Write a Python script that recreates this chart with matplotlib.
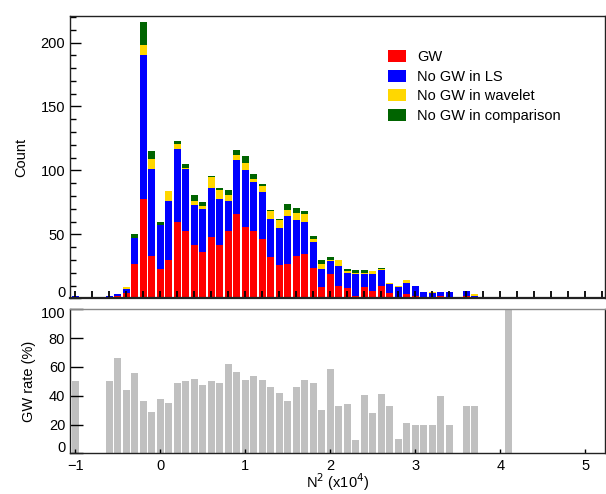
import matplotlib
matplotlib.use("Agg")
import matplotlib.pyplot as plt
from matplotlib.patches import Patch
from matplotlib.ticker import MultipleLocator, FuncFormatter
import numpy as np

plt.rcParams['font.family'] = ['Liberation Sans', 'DejaVu Sans']

# Bin centres of N^2 (x10^4)
bins = [-1.0, -0.9, -0.8, -0.7, -0.6, -0.5, -0.4, -0.3, -0.2, -0.1,
        0.0, 0.1, 0.2, 0.3, 0.4, 0.5, 0.6, 0.7, 0.8, 0.9,
        1.0, 1.1, 1.2, 1.3, 1.4, 1.5, 1.6, 1.7, 1.8, 1.9,
        2.0, 2.1, 2.2, 2.3, 2.4, 2.5, 2.6, 2.7, 2.8, 2.9,
        3.0, 3.1, 3.2, 3.3, 3.4, 3.5, 3.6, 3.7, 3.8, 3.9,
        4.0, 4.1, 4.2, 4.3, 4.4, 4.5, 4.6]

gw = [1, 0, 0, 0, 1, 2, 4, 27, 78, 33,
      23, 30, 60, 53, 42, 36, 48, 42, 53, 66,
      56, 53, 46, 32, 26, 27, 33, 35, 24, 9,
      19, 10, 8, 2, 9, 6, 10, 4, 1, 3,
      2, 1, 1, 2, 1, 0, 2, 1, 0, 0,
      0, 1, 0, 0, 0, 0, 0]
no_ls = [1, 0, 0, 1, 1, 1, 3, 20, 112, 68,
         34, 46, 57, 48, 31, 34, 38, 36, 23, 42,
         44, 38, 37, 30, 29, 37, 28, 25, 20, 14,
         10, 15, 12, 17, 10, 13, 12, 7, 8, 9,
         8, 4, 3, 3, 4, 0, 4, 1, 0, 1,
         0, 0, 0, 0, 0, 0, 0]
no_wavelet = [0, 0, 0, 0, 0, 0, 2, 0, 8, 8,
              0, 8, 4, 1, 3, 2, 9, 7, 5, 4,
              6, 2, 5, 6, 6, 5, 6, 6, 2, 4,
              1, 5, 1, 1, 1, 2, 1, 1, 1, 2,
              0, 0, 1, 0, 0, 1, 0, 1, 0, 0,
              0, 0, 0, 0, 1, 0, 0]
no_comp = [0, 0, 0, 0, 0, 0, 0, 3, 18, 6,
           3, 0, 2, 3, 5, 3, 1, 1, 4, 4,
           5, 4, 1, 1, 1, 5, 4, 2, 3, 3,
           2, 0, 2, 2, 2, 0, 1, 0, 0, 0,
           0, 0, 0, 0, 0, 0, 0, 0, 0, 0,
           0, 0, 0, 0, 0, 0, 1]

# GW rate (%)
gw_rate = [50, 0, 0, 0, 50, 66, 44, 55.6, 36, 29,
           38, 35, 48.7, 50, 51.5, 47.6, 50, 48.5, 62, 56.8,
           50.6, 54, 51, 46, 41.6, 36, 46, 51, 48.7, 30,
           58.6, 33, 34.5, 9, 40.4, 28, 41, 33, 10, 21,
           19.7, 20, 20, 39.5, 20, 0, 33, 33, 0, 0,
           0, 100, 0, 0, 0, 0, 0]

series_labels = ['GW', 'No GW in LS', 'No GW in wavelet', 'No GW in comparison']
series_colors = ['#ff0000', '#0000ff', '#ffd700', '#006400']

count_ticks = [0, 50, 100, 150, 200]
rate_ticks = [0, 20, 40, 60, 80, 100]
x_ticks = [-1, 0, 1, 2, 3, 4, 5]
x_ticklabels = ['\u22121', '0', '1', '2', '3', '4', '5']

W, H = 606, 494
fig = plt.figure(figsize=(W / 100, H / 100), dpi=100)
L, R = 70, 605
ax1 = fig.add_axes([L / W, 1 - 298.3 / H, (R - L) / W, (298.3 - 15.7) / H])
ax2 = fig.add_axes([L / W, 1 - 453.3 / H, (R - L) / W, (453.3 - 309.3) / H])

x = np.array(bins)
width = 0.08
bottom = np.zeros(len(bins))
for vals, col in zip([gw, no_ls, no_wavelet, no_comp], series_colors):
    v = np.array(vals, dtype=float)
    ax1.bar(x, v, width=width, bottom=bottom, color=col, edgecolor='none', linewidth=0)
    bottom += v

ax2.bar(x, gw_rate, width=width, color='#c0c0c0', edgecolor='none', linewidth=0)

xlim = (-1.062, 5.232)
for ax in (ax1, ax2):
    ax.set_xlim(*xlim)
    for s in ax.spines.values():
        s.set_linewidth(1.0)
        s.set_color('#222222')

fs = 10.5
ax1.set_ylim(0, 221)
ax1.set_yticks(count_ticks)
ax1.yaxis.set_minor_locator(MultipleLocator(10))
ax1.xaxis.set_major_locator(MultipleLocator(0.2))
ax1.tick_params(axis='y', which='major', direction='in', length=8, width=1, labelsize=fs)
ax1.tick_params(axis='y', which='minor', direction='in', length=4, width=1)
ax1.tick_params(axis='x', which='major', direction='in', length=5, width=1.3, labelbottom=False)
ax1.spines['bottom'].set_linewidth(1.6)
# lowest label is raised slightly, as in the original
ax1.yaxis.set_major_formatter(FuncFormatter(lambda v, p: '' if v == 0 else f'{int(v)}'))
ax1.annotate('0', xy=(0, 0), xycoords=('axes fraction', 'data'),
             xytext=(-3.5, 3.5), textcoords='offset points', ha='right', va='center', fontsize=fs)
ax1.set_ylabel('Count', fontsize=fs, labelpad=9)

ax2.set_ylim(0, 100)
ax2.set_yticks(rate_ticks)
ax2.tick_params(axis='y', which='major', direction='in', length=9, width=1, labelsize=fs)
ax2.tick_params(axis='x', which='major', direction='in', length=3, width=1, labelsize=fs, pad=4)
ax2.spines['top'].set_color('#888888')
ax2.set_xticks(x_ticks)
ax2.set_xticklabels(x_ticklabels)
ax2.yaxis.set_major_formatter(FuncFormatter(lambda v, p: '' if v in (0, 100) else f'{int(v)}'))
ax2.annotate('100', xy=(0, 100), xycoords=('axes fraction', 'data'),
             xytext=(-3.5, -3.5), textcoords='offset points', ha='right', va='center', fontsize=fs)
ax2.annotate('0', xy=(0, 0), xycoords=('axes fraction', 'data'),
             xytext=(-3.5, 3.5), textcoords='offset points', ha='right', va='center', fontsize=fs)
ax2.set_ylabel('GW rate (%)', fontsize=fs, labelpad=9)
ax2.set_xlabel('N$^2$ (x10$^4$)', fontsize=fs, labelpad=-1)

handles = [Patch(facecolor=c, edgecolor='none') for c in series_colors]
fig.legend(handles, series_labels, loc='upper left',
           bbox_to_anchor=(388 / W, 1 - 50 / H), frameon=False, fontsize=fs,
           handlelength=1.25, handleheight=0.9, handletextpad=0.75,
           labelspacing=0.38, borderpad=0, borderaxespad=0)

fig.savefig('out.png', dpi=100)
